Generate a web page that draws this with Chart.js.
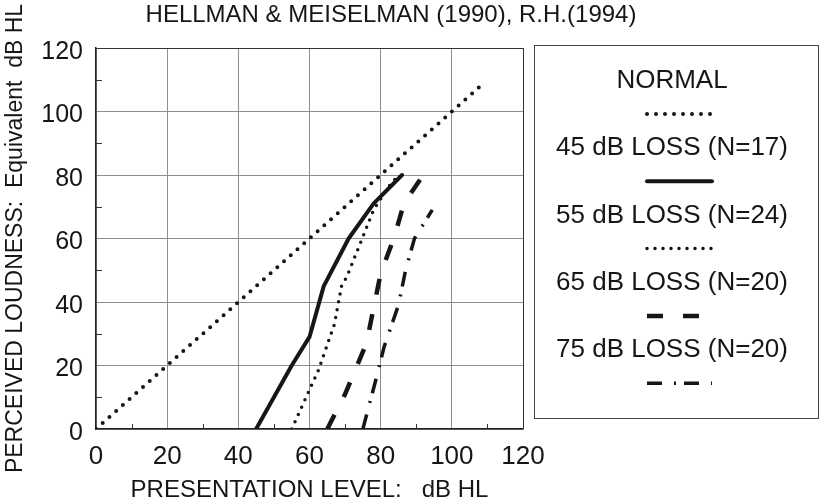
<!DOCTYPE html>
<html>
<head>
<meta charset="utf-8">
<script src="https://cdn.jsdelivr.net/npm/chart.js@4.4.1/dist/chart.umd.min.js"></script>
<style>
  html, body { margin: 0; padding: 0; background: #fff; }
</style>
</head>
<body>
<canvas id="loudChart" width="821" height="502"></canvas>
<script>
// data (x = presentation level, y = perceived loudness)
const seriesNames = ['NORMAL', '45 dB LOSS (N=17)', '55 dB LOSS (N=24)', '65 dB LOSS (N=20)', '75 dB LOSS (N=20)'];
const normalLevel = [0, 109];
const normalLoud  = [0, 109];
const loss45Level = [45, 55, 60, 64, 71, 78, 86];
const loss45Loud  = [0, 20, 29, 45, 60, 71, 80];
const loss55Level = [55, 62.5, 67, 69, 70.5, 75, 78, 82, 85];
const loss55Loud  = [0, 18.5, 33, 45, 48, 60.5, 69, 76, 80];
const loss65Level = [65, 70, 76, 78, 80, 84, 86.5, 92];
const loss65Loud  = [0, 11, 27, 38, 49, 61, 71, 80];
const loss75Level = [75, 79, 81, 85, 87, 89.5, 94.5];
const loss75Loud  = [0, 17, 26, 39, 50, 60, 69];
const axisTicks = [0, 20, 40, 60, 80, 100, 120];

const FONT = '"Liberation Sans", Arial, sans-serif';
const INK = '#161616';

function pts(xs, ys) {
  return xs.map((x, i) => ({ x: x, y: ys[i] }));
}

function line(label, data, width, dash, cap) {
  return {
    label: label,
    data: data,
    showLine: true,
    borderColor: INK,
    backgroundColor: INK,
    borderWidth: width,
    borderDash: dash,
    borderCapStyle: cap,
    borderJoinStyle: 'round',
    pointRadius: 0,
    fill: false,
    tension: 0
  };
}

// frame on top/right + small minor ticks inside the axes
const framePlugin = {
  id: 'frame',
  beforeDatasetsDraw(chart) {
    const { ctx, chartArea: a, scales } = chart;
    ctx.save();
    ctx.strokeStyle = '#333';
    ctx.lineWidth = 1;
    ctx.beginPath();
    ctx.moveTo(a.left, a.top + 0.5);
    ctx.lineTo(a.right + 0.5, a.top + 0.5);
    ctx.lineTo(a.right + 0.5, a.bottom);
    ctx.stroke();
    ctx.beginPath();
    for (let v = 10; v < 120; v += 20) {
      const py = Math.round(scales.y.getPixelForValue(v)) + 0.5;
      ctx.moveTo(a.left, py);
      ctx.lineTo(a.left + 6, py);
      const px = Math.round(scales.x.getPixelForValue(v)) + 0.5;
      ctx.moveTo(px, a.bottom);
      ctx.lineTo(px, a.bottom - 5);
    }
    ctx.stroke();
    ctx.restore();
  }
};

// heading and the boxed legend (label above its line sample)
const textPlugin = {
  id: 'texts',
  afterDraw(chart) {
    const ctx = chart.ctx;
    ctx.save();
    ctx.fillStyle = INK;
    ctx.font = '24px ' + FONT;
    ctx.textAlign = 'center';
    ctx.textBaseline = 'alphabetic';
    ctx.fillText('HELLMAN & MEISELMAN (1990), R.H.(1994)', 391, 22);

    ctx.strokeStyle = '#444';
    ctx.lineWidth = 1;
    ctx.strokeRect(534.5, 45.5, 284, 373);

    ctx.font = '26px ' + FONT;
    ctx.textBaseline = 'middle';
    chart.data.datasets.forEach((ds, i) => {
      const ty = 81 + i * 67.3;
      ctx.fillStyle = INK;
      ctx.fillText(ds.label, 672, ty);
      const sy = ty + 33;
      ctx.save();
      ctx.strokeStyle = ds.borderColor;
      ctx.lineWidth = ds.borderWidth;
      ctx.lineCap = ds.borderCapStyle;
      ctx.setLineDash(ds.borderDash);
      ctx.beginPath();
      ctx.moveTo(647, sy);
      ctx.lineTo(712, sy);
      ctx.stroke();
      ctx.restore();
    });
    ctx.restore();
  }
};

new Chart(document.getElementById('loudChart'), {
  type: 'scatter',
  data: {
    datasets: [
      line(seriesNames[0], pts(normalLevel, normalLoud), 4, [0, 9], 'round'),
      line(seriesNames[1], pts(loss45Level, loss45Loud), 4, [], 'round'),
      line(seriesNames[2], pts(loss55Level, loss55Loud), 3.5, [0, 8], 'round'),
      line(seriesNames[3], pts(loss65Level, loss65Loud), 4.5, [16, 20], 'butt'),
      line(seriesNames[4], pts(loss75Level, loss75Loud), 3.5, [15, 12, 2, 8], 'butt')
    ]
  },
  options: {
    responsive: false,
    animation: false,
    layout: { padding: { top: 48, right: 298, bottom: 0, left: 0 } },
    plugins: {
      legend: { display: false },
      tooltip: { enabled: false }
    },
    scales: {
      x: {
        type: 'linear',
        min: 0,
        max: 120,
        afterBuildTicks: s => { s.ticks = axisTicks.map(v => ({ value: v })); },
        afterFit: s => { s.height = 73; },
        ticks: { font: { family: FONT, size: 26 }, color: INK, padding: 12 },
        grid: { color: '#8e8e8e', lineWidth: 1, drawTicks: false },
        border: { color: '#222', width: 1.5 },
        title: {
          display: true,
          text: 'PRESENTATION LEVEL:   dB HL',
          font: { family: FONT, size: 24, lineHeight: 1 },
          color: INK,
          padding: { top: 0, bottom: 0 }
        }
      },
      y: {
        type: 'linear',
        min: 0,
        max: 120,
        afterBuildTicks: s => { s.ticks = axisTicks.map(v => ({ value: v })); },
        afterFit: s => { s.width = 96; },
        ticks: { font: { family: FONT, size: 25 }, color: INK, padding: 13, labelOffset: 4 },
        grid: { color: '#8e8e8e', lineWidth: 1, drawTicks: false },
        border: { color: '#222', width: 1.5 },
        title: {
          display: true,
          text: 'PERCEIVED LOUDNESS:  Equivalent  dB HL',
          font: { family: FONT, size: 23, lineHeight: 1 },
          color: INK,
          padding: { top: 4, bottom: 0 }
        }
      }
    }
  },
  plugins: [framePlugin, textPlugin]
});
</script>
</body>
</html>
